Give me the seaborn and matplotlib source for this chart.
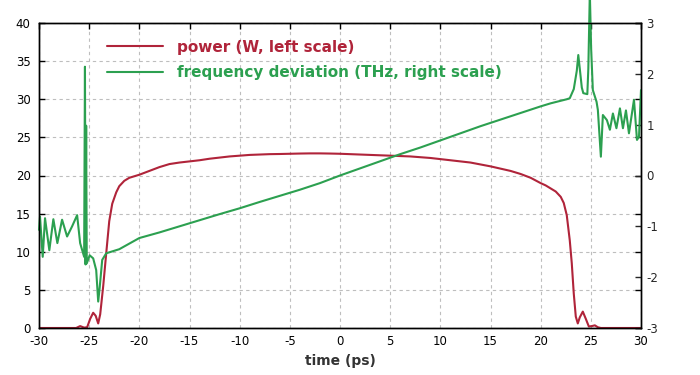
import numpy as np
import pandas as pd
import matplotlib
matplotlib.use("Agg")
import matplotlib.pyplot as plt
import seaborn as sns

# ---- data ----
t_power = [-30, -26.3, -25.9, -25.5, -25.2, -24.9, -24.6, -24.35, -24.1, -23.9, -23.6,
           -23.3, -23.0, -22.7, -22.3, -22.0, -21.5, -21, -20, -19, -18, -17, -16, -15,
           -14, -13, -12, -11, -10, -9, -8, -7, -6, -5, -4, -3, -2, -1, 0, 1, 2, 3, 4,
           5, 6, 7, 8, 9, 10, 11, 12, 13, 14, 15, 16, 17, 18, 19, 20, 20.5, 21, 21.5,
           22, 22.3, 22.6, 22.9, 23.1, 23.3, 23.5, 23.7, 23.9, 24.2, 24.5, 24.8, 25.1,
           25.4, 25.7, 26, 30]
power_W = [0, 0, 0.25, 0.05, 0.1, 1.2, 2.0, 1.6, 0.6, 1.8, 5.5,
           9.8, 14.0, 16.3, 17.8, 18.6, 19.3, 19.7, 20.1, 20.6, 21.1, 21.5, 21.7, 21.85,
           22.0, 22.2, 22.35, 22.5, 22.6, 22.7, 22.75, 22.8, 22.82, 22.85, 22.88, 22.9, 22.9, 22.88, 22.85, 22.8, 22.75, 22.7, 22.65,
           22.6, 22.55, 22.5, 22.4, 22.3, 22.15, 22.0, 21.85, 21.7, 21.45, 21.2, 20.9, 20.6, 20.2, 19.7, 19.0, 18.7, 18.3, 17.9,
           17.2, 16.4, 14.8, 11.5, 8.5, 4.5, 1.5, 0.6, 1.4, 2.15, 1.2, 0.2, 0.25,
           0.35, 0.1, 0, 0]

t_freq = [-30, -29.9, -29.63, -29.4, -28.97, -28.57, -28.17, -27.7, -27.2, -26.7, -26.2,
          -25.9, -25.5, -25.42, -25.36, -25.3, -25.24, -24.95, -24.6, -24.3, -24.1, -23.95,
          -23.7, -23.3, -22, -20, -18, -16, -14, -12, -10, -8, -6, -4, -2, 0, 2, 4, 6, 8,
          10, 12, 14, 16, 18, 20, 21, 22, 22.6, 22.9, 23.3, 23.6, 23.75, 23.9, 24.1, 24.25,
          24.65, 24.75, 24.9, 25.03, 25.2, 25.57, 25.7, 26.0, 26.2, 26.6, 26.9, 27.2, 27.55,
          27.9, 28.2, 28.5, 28.8, 29.3, 29.6, 29.8, 30]
freq_THz = [-1.07, -0.81, -1.6, -0.84, -1.47, -0.86, -1.33, -0.87, -1.2, -1.0, -0.78,
            -1.33, -1.6, 2.14, -1.75, 0.98, -1.73, -1.57, -1.63, -1.86, -2.48, -2.2,
            -1.66, -1.53, -1.45, -1.23, -1.12, -1.0, -0.88, -0.76, -0.645, -0.52, -0.40, -0.28, -0.15, 0.0, 0.14, 0.28, 0.42, 0.55,
            0.69, 0.83, 0.97, 1.1, 1.23, 1.36, 1.42, 1.47, 1.5, 1.52, 1.7, 2.06, 2.37, 2.1, 1.73, 1.62,
            1.6, 2.1, 3.6, 2.5, 1.68, 1.45, 1.29, 0.37, 1.19, 1.09, 0.9, 1.22, 0.93,
            1.32, 0.93, 1.28, 0.83, 1.49, 0.70, 0.76, 1.68]

x_ticks = [-30, -25, -20, -15, -10, -5, 0, 5, 10, 15, 20, 25, 30]
left_ticks = [0, 5, 10, 15, 20, 25, 30, 35, 40]
right_ticks = [-3, -2, -1, 0, 1, 2, 3]

RED = "#B0243A"
GREEN = "#2CA050"

sns.set_style("white")
plt.rcParams["font.family"] = ["DejaVu Sans"]

fig = plt.figure(figsize=(7, 3.75), dpi=100)
ax = fig.add_axes([39/700, 47/375, 602/700, 305/375])
ax2 = ax.twinx()

dfp = pd.DataFrame({"t": t_power, "p": power_W})
dff = pd.DataFrame({"t": t_freq, "f": freq_THz})

sns.lineplot(data=dfp, x="t", y="p", ax=ax, color=RED, lw=1.5, sort=False,
             estimator=None, label="power (W, left scale)", legend=False)
sns.lineplot(data=dff, x="t", y="f", ax=ax2, color=GREEN, lw=1.5, sort=False,
             estimator=None, label="frequency deviation (THz, right scale)", legend=False)
for ln in ax2.get_lines():
    ln.set_clip_on(False)

ax.set_xlim(-30, 30)
ax.set_ylim(0, 40)
ax2.set_ylim(-3, 3)
ax.set_xticks(x_ticks)
ax.set_xticklabels([str(v) for v in x_ticks])
ax.set_yticks(left_ticks)
ax.set_yticklabels([str(v) for v in left_ticks])
ax2.set_yticks(right_ticks)
ax2.set_yticklabels([str(v) for v in right_ticks])

ax.grid(True, color="#BEBEBE", ls=(0, (3, 3)), lw=0.8)
ax.set_axisbelow(True)
for a in (ax, ax2):
    for s in a.spines.values():
        s.set_color("black")
        s.set_linewidth(1.0)
ax.tick_params(axis="both", direction="in", length=4, width=1, labelsize=8.5,
               colors="black", top=True)
ax.tick_params(axis="x", pad=5)
ax.tick_params(axis="y", right=True, labelright=False, pad=6)
ax2.tick_params(axis="y", direction="in", length=4, width=1, labelsize=8.5, pad=4)

ax.set_xlabel("time (ps)", fontsize=10, fontweight="bold", color="#333333", labelpad=4)
ax.set_ylabel("")
ax2.set_ylabel("")

h1, l1 = ax.get_legend_handles_labels()
h2, l2 = ax2.get_legend_handles_labels()
leg = ax2.legend(h1 + h2, l1 + l2, loc="upper left", bbox_to_anchor=(0.09, 0.99),
                 frameon=False, handlelength=3.7, handletextpad=0.9, labelspacing=0.7,
                 prop={"weight": "bold", "size": 11}, labelcolor=[RED, GREEN])

fig.savefig("out.png", dpi=100)
